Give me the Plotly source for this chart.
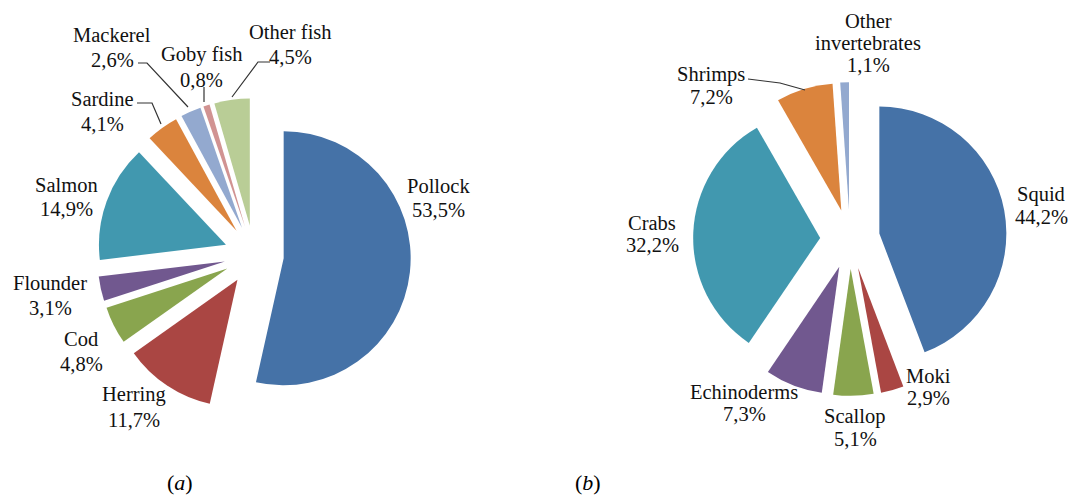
import plotly.graph_objects as go

# ---------------- data ----------------
# Panel (a): fish
fish_labels = ["Pollock", "Herring", "Cod", "Flounder", "Salmon", "Sardine",
               "Mackerel", "Goby fish", "Other fish"]
fish_values = [53.5, 11.7, 4.8, 3.1, 14.9, 4.1, 2.6, 0.8, 4.5]

# Panel (b): invertebrates
inv_labels = ["Squid", "Moki", "Scallop", "Echinoderms", "Crabs", "Shrimps",
              "Other invertebrates"]
inv_values = [44.2, 2.9, 5.1, 7.3, 32.2, 7.2, 1.1]

captions = [("(", "a", ")"), ("(", "b", ")")]

# ---------------- styles / layout ----------------
W, H = 1068, 495
OFF = 0
FONT = "Liberation Serif, Times New Roman, serif"
TXT = "#111111"
PULL = 0.235
RADIUS = 127

fish_colors = ["#4572A7", "#AA4643", "#89A54E", "#71588F", "#4198AF",
               "#DB843D", "#93A9CF", "#D19392", "#B9CD96"]
inv_colors = ["#4572A7", "#AA4643", "#89A54E", "#71588F", "#4198AF",
              "#DB843D", "#93A9CF"]

pie_centres = [(254, 255), (850, 239)]   # page pixels

# label block centres (page pixels) and line breaks
fish_label_pos = [(438, 198), (134, 407), (81, 351), (50, 295), (66, 197),
                  (102, 112), (112, 47), (201, 67), (290, 45)]
inv_label_pos = [(1041, 206), (928, 387), (855, 428), (744, 403), (652, 234),
                 (711, 86), (868, 43)]
inv_name_lines = {"Other invertebrates": ["Other", "invertebrates"]}

# leader lines (page pixels)
leaders = [
    [(137, 103), (152, 103), (161, 124)],   # Sardine
    [(138, 63), (147, 63), (188, 107)],     # Mackerel
    [(204, 87), (204, 102)],                # Goby fish
    [(270, 62), (258, 62), (232, 97)],      # Other fish
    [(748, 79), (780, 83), (805, 90)],      # Shrimps
]

caption_pos = [(180, 482), (588, 482)]


def fmt(v):
    return f"{v:.1f}".replace(".", ",") + "%"


def px(x):
    return (x - OFF) / W


def py(y):
    return 1 - (y - OFF) / H


def domain(cx, cy):
    half = RADIUS * (1 + PULL)
    return dict(x=[px(cx - half), px(cx + half)], y=[py(cy + half), py(cy - half)])


fig = go.Figure()
for labels, values, colors, (cx, cy) in [
        (fish_labels, fish_values, fish_colors, pie_centres[0]),
        (inv_labels, inv_values, inv_colors, pie_centres[1])]:
    fig.add_trace(go.Pie(
        labels=labels, values=values,
        textinfo="none",
        marker=dict(colors=colors, line=dict(width=0)),
        pull=[PULL] * len(values), sort=False, direction="clockwise",
        rotation=0, showlegend=False, hoverinfo="label+percent", automargin=False,
        domain=domain(cx, cy),
    ))


def add_label(lines, cx, cy, spacing, size):
    n = len(lines)
    for i, ln in enumerate(lines):
        y = cy + (i - (n - 1) / 2) * spacing
        fig.add_annotation(text=ln, x=px(cx), y=py(y), xref="paper", yref="paper",
                           xanchor="center", yanchor="middle", showarrow=False,
                           font=dict(family=FONT, size=size, color=TXT))


for lab, val, (cx, cy) in zip(fish_labels, fish_values, fish_label_pos):
    add_label([lab, fmt(val)], cx, cy, 25, 20.5)

for lab, val, (cx, cy) in zip(inv_labels, inv_values, inv_label_pos):
    lines = inv_name_lines.get(lab, [lab]) + [fmt(val)]
    add_label(lines, cx, cy, 22.5, 20.5)

for pts in leaders:
    path = "M " + " L ".join(f"{px(x)},{py(y)}" for x, y in pts)
    fig.add_shape(type="path", path=path, xref="paper", yref="paper",
                  line=dict(color="#333333", width=1.2))

for (o, letter, c), (cx, cy) in zip(captions, caption_pos):
    fig.add_annotation(text=f"{o}<i>{letter}</i>{c}", x=px(cx), y=py(cy),
                       xref="paper", yref="paper", xanchor="center", yanchor="middle",
                       showarrow=False, font=dict(family=FONT, size=22, color="#000"))

fig.update_layout(
    width=W, height=H,
    margin=dict(l=0, r=0, t=0, b=0, pad=0, autoexpand=False),
    paper_bgcolor="white", plot_bgcolor="white",
    font=dict(family=FONT, size=20, color=TXT),
)
fig.write_html(
    "out.html",
    config={"displayModeBar": False},
    post_script="document.body.style.margin='0';document.body.style.overflow='hidden';",
)
